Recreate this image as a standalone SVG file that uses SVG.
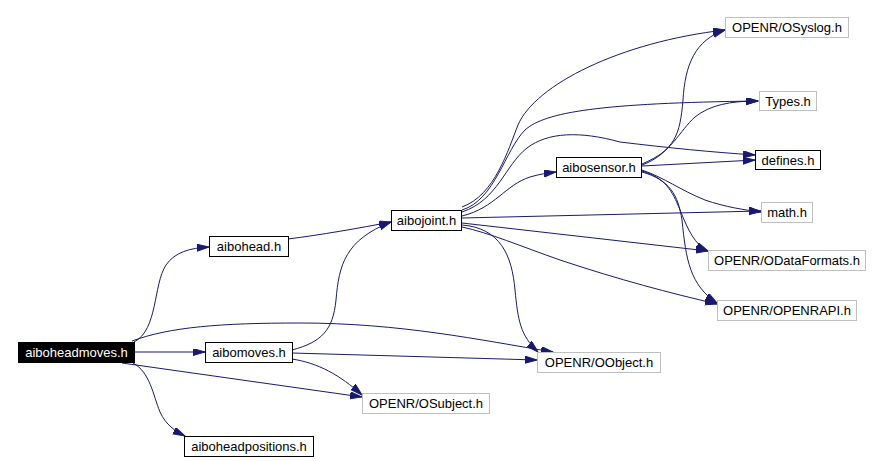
<svg xmlns="http://www.w3.org/2000/svg" width="881" height="461" viewBox="0 0 881 461">
<defs>
<style>
.n rect{fill:#fff;stroke:#000;stroke-width:1}
.g rect{stroke:#bfbfbf}
.n text{font-family:"Liberation Sans",Arial,sans-serif;font-size:13px;text-anchor:middle;fill:#000}
#n_aiboheadmoves rect{fill:#000}
#n_aiboheadmoves text{fill:#fff}
#edges path{fill:none;stroke:#191970;stroke-width:1;marker-end:url(#arr)}
</style>
<marker id="arr" markerUnits="userSpaceOnUse" markerWidth="13" markerHeight="8" refX="12" refY="3.5" orient="auto">
<path d="M0,0 L12,3.5 L0,7 z" fill="#191970" stroke="#191970" stroke-width="1"/>
</marker>
</defs>
<rect width="881" height="461" fill="#fff"/>
<g id="edges">
<path d="M134,342 C158,330 153,285 166,265 C175,252 190,248 209,247"/>
<path d="M134,352 L205,352"/>
<path d="M132,341 C170,327 220,323 300,323 C400,323 480,340 553,352"/>
<path d="M122,363 L362,397"/>
<path d="M133,363 C150,372 153,395 160,412 C166,425 175,431 185,436"/>
<path d="M288,239 C320,235 360,228 391,222"/>
<path d="M292,350 C322,342 333,330 336,300 C339,265 345,240 391,222"/>
<path d="M292,353 L537,360"/>
<path d="M292,359 C318,363 340,375 362,395"/>
<path d="M462,216 C495,208 505,185 530,177 C540,174 548,173 556,172"/>
<path d="M462,207 C495,195 508,150 518,125 C535,85 620,42 725,30"/>
<path d="M462,210 C495,200 505,150 525,130 C545,112 600,103 758,101"/>
<path d="M462,212 C498,200 505,165 527,148 C548,132 580,131 620,142 C670,148 710,152 755,155"/>
<path d="M462,218 L761,211"/>
<path d="M462,223 L708,251"/>
<path d="M462,227 C490,233 520,246 560,260 C620,280 670,293 717,304"/>
<path d="M462,225 C500,228 512,255 515,290 C518,320 520,335 538,352"/>
<path d="M642,164 C675,150 680,135 683,100 C685,65 695,40 725,30"/>
<path d="M642,165 C670,155 680,130 695,117 C710,105 730,101 758,101"/>
<path d="M642,166 L755,160"/>
<path d="M642,170 C665,178 680,190 705,200 C725,207 745,210 761,212"/>
<path d="M642,171 C665,178 672,190 680,210 C688,230 695,245 708,251"/>
<path d="M642,172 C670,180 678,195 682,220 C686,260 690,285 717,303"/>
</g>
<g id="n_aiboheadmoves" class="n"><rect x="18.5" y="342.5" width="116" height="20"/><text x="76.5" y="357">aiboheadmoves.h</text></g>
<g id="n_aibohead" class="n"><rect x="209.5" y="236.5" width="79" height="20"/><text x="249" y="251">aibohead.h</text></g>
<g id="n_aibomoves" class="n"><rect x="205.5" y="342.5" width="87" height="20"/><text x="249" y="357">aibomoves.h</text></g>
<g id="n_aiboheadpositions" class="n"><rect x="184.5" y="436.5" width="129" height="20"/><text x="249" y="451">aiboheadpositions.h</text></g>
<g id="n_aibojoint" class="n"><rect x="391.5" y="210.5" width="70" height="20"/><text x="426.5" y="225">aibojoint.h</text></g>
<g id="n_aibosensor" class="n"><rect x="556.5" y="157.5" width="85" height="20"/><text x="599" y="172">aibosensor.h</text></g>
<g id="n_OObject" class="n g"><rect x="537.5" y="352.5" width="123" height="20"/><text x="599" y="367">OPENR/OObject.h</text></g>
<g id="n_OSubject" class="n g"><rect x="362.5" y="393.5" width="127" height="20"/><text x="426" y="408">OPENR/OSubject.h</text></g>
<g id="n_OSyslog" class="n g"><rect x="725.5" y="17.5" width="123" height="20"/><text x="787" y="32">OPENR/OSyslog.h</text></g>
<g id="n_Types" class="n g"><rect x="759.5" y="91.5" width="57" height="19"/><text x="788" y="105.5">Types.h</text></g>
<g id="n_defines" class="n"><rect x="755.5" y="150.5" width="65" height="19"/><text x="788" y="164.5">defines.h</text></g>
<g id="n_math" class="n g"><rect x="761.5" y="202.5" width="51" height="20"/><text x="787" y="217">math.h</text></g>
<g id="n_ODataFormats" class="n g"><rect x="708.5" y="250.5" width="157" height="20"/><text x="787" y="265">OPENR/ODataFormats.h</text></g>
<g id="n_OPENRAPI" class="n g"><rect x="717.5" y="300.5" width="139" height="20"/><text x="787" y="315">OPENR/OPENRAPI.h</text></g>
</svg>
